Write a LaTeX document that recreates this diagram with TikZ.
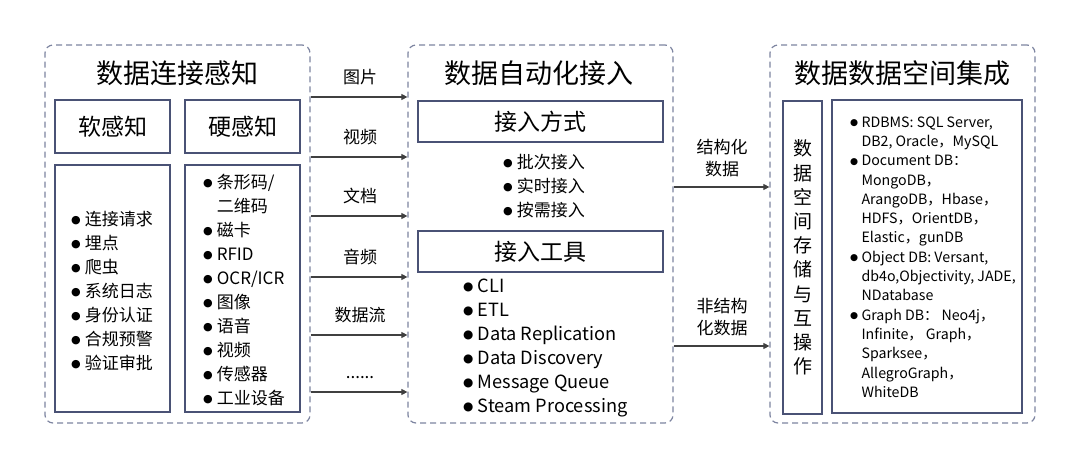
\documentclass[tikz,border=0pt]{standalone}
\usepackage{fontspec}
\usepackage{graphicx}
\setmainfont{Noto Sans CJK SC}
\newfontfamily\symfont{DejaVu Sans}
\usetikzlibrary{arrows.meta,positioning}
\definecolor{dashgray}{HTML}{7D84A0}
\definecolor{boxblue}{HTML}{4A5275}
\definecolor{arrowgray}{HTML}{404040}
\newcommand{\bl}{\makebox[0.8em][l]{\raisebox{0.12em}{\scalebox{0.65}{\symfont ●}}}}
\newcommand{\ind}{\hspace*{0.8em}}

\begin{document}
\begin{tikzpicture}[x=1pt,y=-1pt,
  panel/.style={draw=dashgray,dash pattern=on 6pt off 4pt,line width=1.2pt,rounded corners=8pt,inner sep=0pt},
  box/.style={draw=boxblue,line width=1.4pt,inner sep=0pt},
  title/.style={font=\fontsize{27}{30}\selectfont,inner sep=0pt},
  head/.style={font=\fontsize{23}{26}\selectfont},
  items/.style={font=\fontsize{17}{24}\selectfont,align=left,inner sep=0pt,anchor=west},
  lbl/.style={font=\fontsize{17}{22}\selectfont,align=center,inner sep=0pt,text depth=13pt,anchor=south},
  flow/.style={draw=arrowgray,line width=1.1pt,-{Triangle[length=6pt,width=6pt]}}]
  \useasboundingbox (0,0) rectangle (1080,468);

  % three dashed panels
  \node[panel,minimum width=265pt,minimum height=378pt] (lp) at (177.5,234) {};
  \node[panel,minimum width=265pt,minimum height=378pt] (mp) at (540.5,234) {};
  \node[panel,minimum width=265pt,minimum height=378pt] (rp) at (902.5,234) {};

  \node[title] (lt) at (177.5,73) {数据连接感知};
  \node[title] (mt) at (539,73) {数据自动化接入};
  \node[title] (rt) at (902.5,73) {数据数据空间集成};

  % left panel
  \node[box,head,minimum width=115pt,minimum height=53pt] (soft) at (112.5,126.5) {软感知};
  \node[box,head,minimum width=115pt,minimum height=53pt] (hard) at (242.5,126.5) {硬感知};
  \node[box,minimum width=115pt,minimum height=247pt] (softbox) at (112.5,288.5) {};
  \node[box,minimum width=115pt,minimum height=247pt] (hardbox) at (242.5,288.5) {};
  \node[items] (softlist) at (71,291) {\bl 连接请求\\ \bl 埋点\\ \bl 爬虫\\ \bl 系统日志\\
    \bl 身份认证\\ \bl 合规预警\\ \bl 验证审批};
  \node[items] (hardlist) at (203,290.5) {\bl 条形码/\\ \ind 二维码\\ \bl 磁卡\\ \bl RFID\\
    \bl OCR/ICR\\ \bl 图像\\ \bl 语音\\ \bl 视频\\ \bl 传感器\\ \bl 工业设备};

  % middle panel
  \node[box,head,minimum width=245pt,minimum height=41pt] (mode) at (540.5,121.5) {接入方式};
  \node[items] (modelist) at (503,186) {\bl 批次接入\\ \bl 实时接入\\ \bl 按需接入};
  \node[box,head,minimum width=245pt,minimum height=41pt] (tool) at (540.5,251.5) {接入工具};
  \node[items,font=\fontsize{18.2}{24}\selectfont] (toollist) at (463,348) {\bl CLI\\ \bl ETL\\
    \bl Data Replication\\ \bl Data Discovery\\ \bl Message Queue\\ \bl Steam Processing};

  % right panel
  \node[box,minimum width=39pt,minimum height=313pt,align=center,
    font=\fontsize{19}{24.2}\selectfont] (store) at (802.5,257.5)
    {数\\据\\空\\间\\存\\储\\与\\互\\操\\作};
  \node[box,minimum width=190pt,minimum height=313pt] (dbbox) at (927,256.5) {};
  \node[items,font=\fontsize{14.2}{19.3}\selectfont] (dblist) at (850,257) {\bl RDBMS: SQL Server,\\
    \ind DB2, Oracle，MySQL\\ \bl Document DB：\\ \ind MongoDB，\\ \ind ArangoDB，Hbase，\\
    \ind HDFS，OrientDB，\\ \ind Elastic，gunDB\\ \bl Object DB: Versant,\\
    \ind db4o,Objectivity, JADE,\\ \ind NDatabase\\ \bl Graph DB： Neo4j，\\
    \ind Infinite， Graph，\\ \ind Sparksee，\\ \ind AllegroGraph，\\ \ind WhiteDB};

  % arrows
  \foreach \y/\t [count=\i] in {97/图片,157/视频,216/文档,277/音频,335/数据流,392/{......}}{
    \node[lbl] (t\i) at (360,\y) {\t};
    \draw[flow] (lp.east |- t\i.south) -- (mp.west |- t\i.south);
  }
  \node[lbl,text depth=11pt] (s1) at (722,187) {结构化\\数据};
  \node[lbl,text depth=11pt] (s2) at (722,346) {非结构\\化数据};
  \draw[flow] (mp.east |- s1.south) -- (rp.west |- s1.south);
  \draw[flow] (mp.east |- s2.south) -- (rp.west |- s2.south);
\end{tikzpicture}
\end{document}
